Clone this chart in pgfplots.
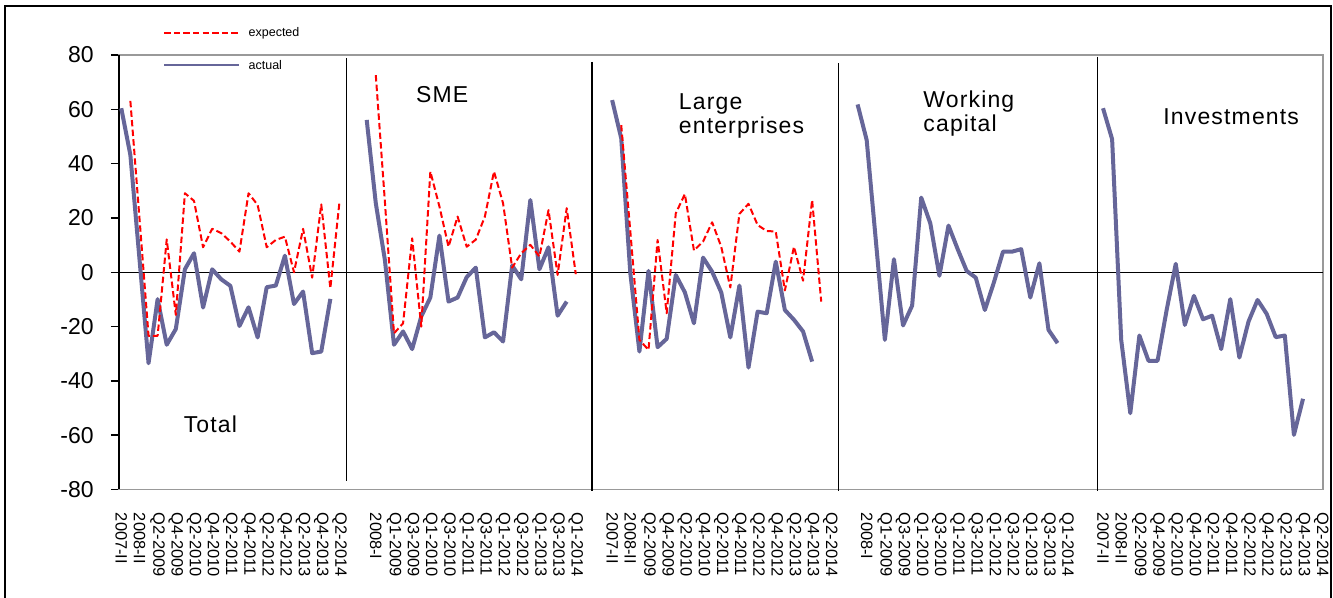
\documentclass[border=0pt]{standalone}
\usepackage{fontspec}
\setmainfont{Liberation Sans}
\newfontfamily\titlefont[LetterSpace=5]{Liberation Sans}
\usepackage{pgfplots}
\pgfplotsset{compat=1.18}
\definecolor{actualc}{RGB}{102,102,153}
\definecolor{expc}{RGB}{255,0,0}
\begin{document}
\begin{tikzpicture}
\useasboundingbox (-59.5pt,-54pt) rectangle (607pt,244.75pt);
\draw[black, line width=1pt] (-57pt,-60pt) -- (-57pt,241.5pt) -- (606pt,241.5pt) -- (606pt,-60pt);
\begin{axis}[
  at={(0pt,0pt)}, anchor=south west,
  scale only axis, width=602pt, height=217.25pt,
  xmin=-0.25, xmax=132.2, ymin=-80, ymax=80,
  clip=false,
  axis line style={draw=black!40, line width=0.9pt},
  ytick={-80,-60,...,80},
  ytick pos=left, tick align=outside,
  major tick length=4pt,
  ytick style={black, line width=0.75pt},
  xtick style={draw=none},
  /pgf/number format/assume math mode=true,
  yticklabel style={font=\fontsize{11.5}{13}\selectfont, anchor=east, inner sep=0pt},
  yticklabel shift=8.5pt,
  xtick={0,2,...,132},
  xticklabels={2007-II,2008-II,Q2-2009,Q4-2009,Q2-2010,Q4-2010,Q2-2011,Q4-2011,Q2-2012,Q4-2012,Q2-2013,Q4-2013,Q2-2014,
    {},
    2008-I,Q1-2009,Q3-2009,Q1-2010,Q3-2010,Q1-2011,Q3-2011,Q1-2012,Q3-2012,Q1-2013,Q3-2013,Q1-2014,
    {},
    2007-II,2008-II,Q2-2009,Q4-2009,Q2-2010,Q4-2010,Q2-2011,Q4-2011,Q2-2012,Q4-2012,Q2-2013,Q4-2013,Q2-2014,
    {},
    2008-I,Q1-2009,Q3-2009,Q1-2010,Q3-2010,Q1-2011,Q3-2011,Q1-2012,Q3-2012,Q1-2013,Q3-2013,Q1-2014,
    {},
    2007-II,2008-II,Q2-2009,Q4-2009,Q2-2010,Q4-2010,Q2-2011,Q4-2011,Q2-2012,Q4-2012,Q2-2013,Q4-2013,Q2-2014},
  xticklabel style={font=\fontsize{8.2}{9}\selectfont, rotate=-90, anchor=west, inner sep=0pt},
  xticklabel shift=7.5pt,
  every axis plot/.append style={line join=round},
]
% legend (drawn in axis coordinates)
\addplot[expc, line width=0.8pt, dash pattern=on 3.2pt off 1.6pt, forget plot] coordinates {(4.73,88.1) (12.98,88.1)};
\addplot[actualc, line width=0.8pt, forget plot] coordinates {(4.73,76.3) (12.98,76.3)};
\node[font=\fontsize{6.25}{7}\selectfont, inner sep=0pt, anchor=west] at (axis cs:13.97,88.1) {expected};
\node[font=\fontsize{6.25}{7}\selectfont, inner sep=0pt, anchor=west] at (axis cs:13.97,76.3) {actual};

% frame lines
\addplot[black, line width=0.75pt, forget plot] coordinates {(-0.25,-80) (-0.25,80)};
\addplot[black, line width=0.75pt, forget plot] coordinates {(-0.25,0) (132.2,0)};
\addplot[black, line width=0.75pt, forget plot] coordinates {(24.8,78.9) (24.8,-76.8)};
\addplot[black, line width=0.75pt, forget plot] coordinates {(51.8,77.5) (51.8,-80.5)};
\addplot[black, line width=0.75pt, forget plot] coordinates {(78.9,77) (78.9,-80.5)};
\addplot[black, line width=0.75pt, forget plot] coordinates {(107.4,79.4) (107.4,-80.5)};

% Total actual
\addplot[actualc, line width=2pt, forget plot] coordinates {
(0,60.4) (1,43.2) (2,5) (3,-33.5) (4,-9.9) (5,-26.7) (6,-20.9) (7,1.1) (8,7.0) (9,-13.0) (10,1.1) (11,-2.6)
(12,-5.0) (13,-19.8) (14,-12.9) (15,-24.0) (16,-5.5) (17,-4.9) (18,6.1) (19,-11.7) (20,-7.1) (21,-29.8) (22,-29.2) (23,-9.8)};
% SME actual
\addplot[actualc, line width=2pt, forget plot] coordinates {
(27,56.1) (28,25.4) (29,4.5) (30,-26.7) (31,-21.8) (32,-28.3) (33,-16.3) (34,-9.3) (35,13.5) (36,-10.8) (37,-9.3) (38,-1.8)
(39,1.7) (40,-24.0) (41,-22.1) (42,-25.5) (43,2.5) (44,-2.6) (45,26.6) (46,1.1) (47,9.2) (48,-16.0) (49,-10.8)};
% Large actual
\addplot[actualc, line width=2pt, forget plot] coordinates {
(54,63.4) (55,49.3) (56,-0.4) (57,-29.2) (58,0.5) (59,-27.6) (60,-24.5) (61,-1.0) (62,-7.4) (63,-18.8) (64,5.4) (65,0.2)
(66,-7.4) (67,-24.0) (68,-4.9) (69,-35.1) (70,-14.5) (71,-15.1) (72,3.9) (73,-13.9) (74,-17.5) (75,-21.8) (76,-32.9)};
% Working capital actual
\addplot[actualc, line width=2pt, forget plot] coordinates {
(81,61.8) (82,48.7) (83,12) (84,-24.9) (85,4.8) (86,-19.6) (87,-12.3) (88,27.5) (89,18.0) (90,-1.3) (91,17.2) (92,8.6)
(93,0.5) (94,-2.0) (95,-13.9) (96,-3.7) (97,7.6) (98,7.6) (99,8.5) (100,-9.3) (101,3.3) (102,-21.2) (103,-26.1)};
% Investments actual
\addplot[actualc, line width=2pt, forget plot] coordinates {
(108,60.4) (109,49.0) (110,-24.9) (111,-51.9) (112,-23.3) (113,-32.6) (114,-32.6) (115,-13.9) (116,3.1) (117,-19.4) (118,-8.7)
(119,-17.3) (120,-16.0) (121,-28.3) (122,-9.9) (123,-31.4) (124,-18.2) (125,-10.2) (126,-15.3) (127,-23.9) (128,-23.3) (129,-59.9) (130,-46.6)};

% Total expected
\addplot[expc, line width=1pt, dash pattern=on 3.2pt off 1.6pt, forget plot] coordinates {
(1,63.1) (2,20) (3,-23.4) (4,-23.4) (5,12.1) (6,-15.7) (7,29.1) (8,26.3) (9,9.2) (10,16.0) (11,14.4) (12,11.3)
(13,7.6) (14,29.1) (15,24.8) (16,9.2) (17,11.9) (18,13.1) (19,0) (20,16.0) (21,-2.0) (22,25.0) (23,-5.9) (24,25.8)};
% SME expected
\addplot[expc, line width=1pt, dash pattern=on 3.2pt off 1.6pt, forget plot] coordinates {
(28,72.6) (29,26) (30,-22.5) (31,-18.8) (32,12.5) (33,-20.0) (34,37.1) (35,24.2) (36,9.4) (37,20.5) (38,9.4) (39,12)
(40,20.5) (41,37.1) (42,25.4) (43,1.7) (44,7.0) (45,10.1) (46,5.8) (47,22.9) (48,-1.0) (49,23.6) (50,-0.7)};
% Large expected
\addplot[expc, line width=1pt, dash pattern=on 3.2pt off 1.6pt, forget plot] coordinates {
(55,54.2) (56,15) (57,-24.9) (58,-28.6) (59,11.9) (60,-15.1) (61,21.7) (62,28.8) (63,8.0) (64,11.3) (65,18.4) (66,9.4)
(67,-5.6) (68,21.5) (69,25.2) (70,17.4) (71,15.2) (72,15.0) (73,-6.7) (74,9.4) (75,-3.1) (76,26.6) (77,-10.8)};

\node[font=\titlefont\fontsize{11.5}{13}\selectfont, inner sep=0pt] at (axis cs:9.8,-55.9) {Total};
\node[font=\titlefont\fontsize{11.5}{13}\selectfont, inner sep=0pt] at (axis cs:35.3,65.5) {SME};
\node[font=\titlefont\fontsize{11.5}{11.7}\selectfont, inner sep=0pt, anchor=west, align=left] at (axis cs:61.3,57.5) {Large\\enterprises};
\node[font=\titlefont\fontsize{11.5}{11.7}\selectfont, inner sep=0pt, anchor=west, align=left] at (axis cs:88.2,58.5) {Working\\capital};
\node[font=\titlefont\fontsize{11.5}{13}\selectfont, inner sep=0pt] at (axis cs:122.1,57.4) {Investments};
\end{axis}
\end{tikzpicture}
\end{document}
